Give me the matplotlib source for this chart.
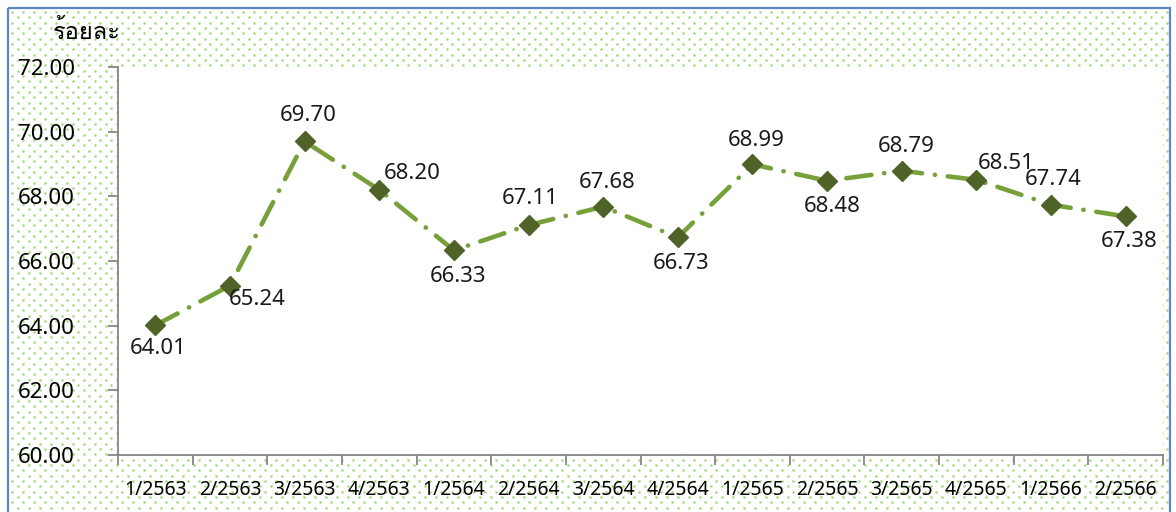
import matplotlib
matplotlib.use("Agg")
import matplotlib.pyplot as plt
import numpy as np
from matplotlib import font_manager
from matplotlib.ft2font import FT2Font
from matplotlib.patches import Rectangle

# data
quarters = ['1/2563', '2/2563', '3/2563', '4/2563', '1/2564', '2/2564', '3/2564',
            '4/2564', '1/2565', '2/2565', '3/2565', '4/2565', '1/2566', '2/2566']
values = [64.01, 65.24, 69.70, 68.20, 66.33, 67.11, 67.68,
          66.73, 68.99, 68.48, 68.79, 68.51, 67.74, 67.38]
y_ticks = [60, 62, 64, 66, 68, 70, 72]
unit_label = 'ร้อยละ'

# find an installed font that can draw Thai
thai_font = None
for f in font_manager.fontManager.ttflist:
    try:
        if 0x0E23 in FT2Font(f.fname).get_charmap():
            thai_font = f.name
            break
    except Exception:
        pass
families = ['Noto Sans', 'DejaVu Sans']
if thai_font:
    families = ['Noto Sans', thai_font, 'DejaVu Sans']
plt.rcParams['font.family'] = families

W, H = 1176, 512
fig = plt.figure(figsize=(W / 100, H / 100), dpi=100)

# dotted background
bg = fig.add_axes([0, 0, 1, 1], zorder=-2)
bg.set_xlim(0, W)
bg.set_ylim(H, 0)
bg.axis('off')
xs, ys = [], []
for r, yy in enumerate(np.arange(12, H, 5.33)):
    off = 5.5 if r % 2 else 0
    for xx in np.arange(12 + off, W - 8, 11):
        xs.append(xx)
        ys.append(yy)
bg.scatter(xs, ys, s=3.5, color='#a2dc78', linewidths=0)
bg.add_patch(Rectangle((8, 8), W - 14, H, fill=False, edgecolor='#5b87c5', linewidth=1.6))

# main plot
ax = fig.add_axes([118 / W, 57 / H, (1163 - 118) / W, (455 - 67) / H])
ax.set_facecolor('white')
x = np.arange(len(quarters))
line, = ax.plot(x, values, color='#77a03a', linewidth=3.3, dash_capstyle='round',
                marker='D', markersize=10, markerfacecolor='#4f6228',
                markeredgecolor='#4f6228', zorder=3)
line.set_dashes((5.5, 2.8, 0.05, 2.8))

ax.set_xlim(-0.5, len(quarters) - 0.5)
ax.set_ylim(60, 72)
ax.set_yticks(y_ticks)
ax.set_yticklabels([f'{v:.2f}' for v in y_ticks], fontsize=16)
ax.set_xticks(np.arange(-0.5, len(quarters), 1))
ax.set_xticklabels([])
ax.set_xticks(x, minor=True)
ax.set_xticklabels(quarters, minor=True, fontsize=14)
ax.tick_params(axis='x', which='minor', length=0, pad=18)
ax.tick_params(axis='x', which='major', length=7, color='#868686', width=1.3, direction='out')
ax.tick_params(axis='y', length=7, color='#868686', width=1.3, direction='out', pad=24)
for s in ['top', 'right']:
    ax.spines[s].set_visible(False)
for s in ['left', 'bottom']:
    ax.spines[s].set_color('#868686')
    ax.spines[s].set_linewidth(1.3)

# data labels (offsets in pixels)
offsets = [(3, -23), (27, -14), (4, 26), (33, 16), (4, -26), (2, 27), (4, 24),
           (3, -26), (4, 24), (5, -26), (4, 24), (30, 16), (2, 25), (3, -25)]
for xi, v, (dx, dy) in zip(x, values, offsets):
    ax.annotate(f'{v:.2f}', (xi, v), xytext=(dx, dy), textcoords='offset pixels',
                ha='center', va='center', fontsize=16, color='#1a1a1a')

fig.text(53 / W, 1 - 33 / H, unit_label, fontsize=17, ha='left', va='center')

fig.savefig('out.png', dpi=100)
